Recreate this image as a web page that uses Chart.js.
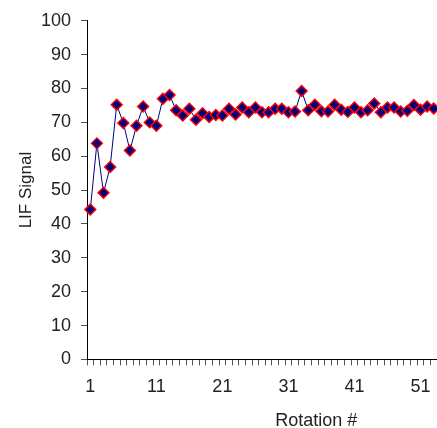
<!DOCTYPE html>
<html>
<head>
<meta charset="utf-8">
<script src="https://cdn.jsdelivr.net/npm/chart.js@4/dist/chart.umd.min.js"></script>
<style>
  html, body { margin: 0; padding: 0; background: #fff; overflow: hidden; }
  #wrap { width: 437px; height: 428px; }
</style>
</head>
<body>
<div id="wrap"><canvas id="grafico" width="437" height="428"></canvas></div>
<script>
// rotation numbers (categories)
const rotations = [
  '1','2','3','4','5','6','7','8','9','10',
  '11','12','13','14','15','16','17','18','19','20',
  '21','22','23','24','25','26','27','28','29','30',
  '31','32','33','34','35','36','37','38','39','40',
  '41','42','43','44','45','46','47','48','49','50',
  '51','52','53'
];
// LIF signal
const lifSignal = [
  44.3, 63.8, 49.2, 56.8, 75.2, 69.8, 61.7, 69.0, 74.7, 70.0,
  69.0, 77.0, 78.1, 73.6, 72.0, 74.0, 70.8, 72.7, 71.6, 72.2,
  72.0, 74.0, 72.3, 74.4, 73.0, 74.4, 73.0, 73.0, 74.0, 74.0,
  73.0, 73.2, 79.3, 73.6, 75.2, 73.3, 73.2, 75.2, 73.7, 73.1,
  74.4, 73.0, 73.6, 75.6, 73.0, 74.4, 74.4, 73.2, 73.4, 75.1,
  73.7, 74.7, 74.1
];
const shownTicks = ['1', '11', '21', '31', '41', '51'];
const yTicks = [0, 10, 20, 30, 40, 50, 60, 70, 80, 90, 100];

const fontFam = '"Liberation Sans", Arial, sans-serif';

// x axis title sits right of centre, as in the cropped original
const xTitle = {
    id: 'xTitle',
    afterDraw(chart) {
        const c = chart.ctx;
        const a = chart.chartArea;
        c.save();
        c.font = '18px ' + fontFam;
        c.fillStyle = '#222';
        c.textAlign = 'center';
        c.textBaseline = 'middle';
        c.fillText('Rotation #', a.left + (a.right - a.left) * 0.655, 421);
        c.restore();
    }
};

const ctx = document.getElementById('grafico').getContext('2d');
new Chart(ctx, {
    type: 'line',
    data: {
        labels: rotations,
        datasets: [{
            data: lifSignal,
            borderColor: '#000080',
            borderWidth: 1,
            backgroundColor: '#000080',
            pointStyle: 'rectRot',
            pointRadius: 5.5,
            pointBackgroundColor: '#000080',
            pointBorderColor: '#ff0000',
            pointBorderWidth: 1.4,
            tension: 0,
            clip: false
        }]
    },
    options: {
        responsive: false,
        animation: false,
        layout: { autoPadding: false, padding: { top: 4, right: 0, bottom: 19, left: 16 } },
        plugins: {
            legend: { display: false },
            tooltip: { enabled: false }
        },
        scales: {
            x: {
                type: 'category',
                offset: true,
                afterFit: (s) => { s.paddingLeft = 0; s.paddingRight = 0; },
                grid: {
                    offset: true,
                    drawOnChartArea: false,
                    drawTicks: true,
                    tickLength: 6,
                    color: '#555'
                },
                border: { color: '#000', width: 1 },
                ticks: {
                    autoSkip: false,
                    maxRotation: 0,
                    padding: 11,
                    color: '#222',
                    font: { family: fontFam, size: 18 },
                    callback: function (v) {
                        const l = this.getLabelForValue(v);
                        return shownTicks.includes(l) ? l : '';
                    }
                }
            },
            y: {
                min: 0,
                max: 100,
                afterBuildTicks: (s) => { s.ticks = yTicks.map(v => ({ value: v })); },
                afterFit: (s) => { s.width = 71; },
                grid: {
                    drawOnChartArea: false,
                    tickLength: 6,
                    color: '#555'
                },
                border: { color: '#000', width: 1 },
                ticks: {
                    padding: 10,
                    color: '#222',
                    font: { family: fontFam, size: 18 }
                },
                title: {
                    display: true,
                    text: 'LIF Signal',
                    color: '#222',
                    font: { family: fontFam, size: 17 },
                    padding: { top: 0, bottom: 0 }
                }
            }
        }
    },
    plugins: [xTitle]
});
</script>
</body>
</html>
